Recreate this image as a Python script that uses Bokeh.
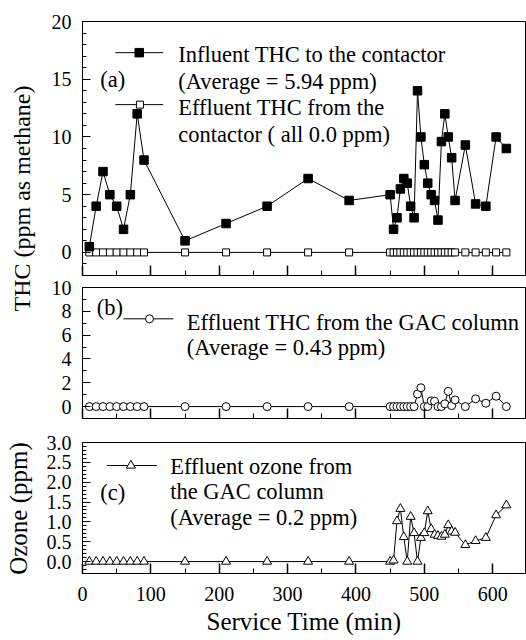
from bokeh.plotting import figure
from bokeh.models import Range1d, SingleIntervalTicker, PrintfTickFormatter, CustomJSTickFormatter, Label
from bokeh.layouts import row, column
from bokeh.embed import file_html
from bokeh.resources import INLINE

# ---------------- data ----------------
service_time = [10, 20, 30, 40, 50, 60, 70, 80, 90,
                150, 210, 270, 330, 390,
                450, 455, 460, 465, 470, 475, 480, 485, 490, 495,
                500, 505, 510, 515, 520, 525, 530, 535, 540, 545,
                560, 575, 590, 605, 620]

influent_thc = [0.5, 4.0, 7.0, 5.0, 4.0, 2.0, 5.0, 12.0, 8.0,
                1.0, 2.5, 4.0, 6.4, 4.5,
                5.0, 2.0, 3.0, 5.5, 6.4, 6.0, 4.0, 3.0, 14.0, 10.0,
                7.6, 6.0, 5.0, 4.5, 2.8, 9.6, 12.0, 10.0, 8.2, 4.5,
                9.3, 4.2, 4.0, 10.0, 9.0]

effluent_contactor_thc = [0.0, 0.0, 0.0, 0.0, 0.0, 0.0, 0.0, 0.0, 0.0,
                          0.0, 0.0, 0.0, 0.0, 0.0,
                          0.0, 0.0, 0.0, 0.0, 0.0, 0.0, 0.0, 0.0, 0.0, 0.0,
                          0.0, 0.0, 0.0, 0.0, 0.0, 0.0, 0.0, 0.0, 0.0, 0.0,
                          0.0, 0.0, 0.0, 0.0, 0.0]

effluent_gac_thc = [0.0, 0.0, 0.0, 0.0, 0.0, 0.0, 0.0, 0.0, 0.0,
                    0.0, 0.0, 0.0, 0.0, 0.0,
                    0.0, 0.0, 0.0, 0.0, 0.0, 0.0, 0.0, 0.0, 1.05, 1.58,
                    0.0, 0.0, 0.48, 0.45, 0.0, 0.0, 0.23, 1.28, 0.08, 0.56,
                    0.0, 0.65, 0.28, 0.87, 0.0]

effluent_ozone = [0.0, 0.0, 0.0, 0.0, 0.0, 0.0, 0.0, 0.0, 0.0,
                  0.0, 0.0, 0.0, 0.0, 0.0,
                  0.0, 0.03, 1.02, 1.33, 0.62, 0.0, 1.13, 0.72, 0.0, 0.6,
                  0.72, 1.27, 0.82, 0.68, 0.65, 0.63, 0.68, 0.92, 0.76, 0.73,
                  0.42, 0.52, 0.6, 1.17, 1.42]

x_tick_interval = 100
panel_a_range = (-2, 20)
panel_b_range = (-1, 10)
panel_c_range = (-0.3, 3.0)

FONT = "Liberation Serif"
TICK_FS = "20px"
ANN_FS = "22.5px"
X_RANGE = (0, 648)


def make_panel(height, yr, btop, bbot, y_interval, y_minor, yfmt, last=False):
    p = figure(width=488, height=height,
               x_range=Range1d(*X_RANGE), y_range=Range1d(*yr),
               output_backend="svg", toolbar_location=None,
               min_border_left=44, min_border_right=1,
               min_border_top=btop, min_border_bottom=bbot)
    p.grid.visible = False
    p.outline_line_color = "black"
    p.outline_line_width = 1
    p.background_fill_color = "white"
    p.border_fill_color = "white"

    xa = p.xaxis[0]
    xa.ticker = SingleIntervalTicker(interval=x_tick_interval, num_minor_ticks=2)
    xa.major_tick_in = 10
    xa.major_tick_out = 0
    xa.minor_tick_in = 5
    xa.minor_tick_out = 0
    xa.major_tick_line_width = 1.5
    xa.axis_line_color = "black"
    xa.major_tick_line_color = "black"
    xa.minor_tick_line_color = "black"
    if last:
        xa.major_label_text_font = FONT
        xa.major_label_text_font_size = TICK_FS
        xa.major_label_text_color = "black"
        xa.major_label_standoff = 13
        xa.axis_label = "Service Time (min)"
        xa.axis_label_text_font = FONT
        xa.axis_label_text_font_size = "25px"
        xa.axis_label_text_font_style = "normal"
        xa.axis_label_text_color = "black"
        xa.axis_label_standoff = 4
    else:
        xa.formatter = CustomJSTickFormatter(code="return ''")
        xa.major_label_standoff = 0

    ya = p.yaxis[0]
    ya.ticker = SingleIntervalTicker(interval=y_interval, num_minor_ticks=y_minor)
    ya.formatter = PrintfTickFormatter(format=yfmt)
    ya.major_tick_in = 8
    ya.major_tick_out = 0
    ya.minor_tick_in = 4
    ya.minor_tick_out = 0
    ya.major_tick_line_width = 1.2
    ya.major_label_text_font = FONT
    ya.major_label_text_font_size = TICK_FS
    ya.major_label_text_color = "black"
    ya.major_label_standoff = 11
    ya.axis_line_color = "black"
    ya.major_tick_line_color = "black"
    ya.minor_tick_line_color = "black"
    return p


def add_text(p, x, y, text, size=ANN_FS):
    p.add_layout(Label(x=x, y=y, text=text, text_font=FONT, text_font_size=size,
                       text_color="black", text_align="left", text_baseline="alphabetic"))


# ---------------- panel (a) ----------------
pa = make_panel(278, panel_a_range, 21, 3, 5, 5, "%d")
pa.line(service_time, effluent_contactor_thc, color="black", line_width=1)
pa.scatter(service_time, effluent_contactor_thc, marker="square", size=7,
           fill_color="white", line_color="black", line_width=1)
pa.line(service_time, influent_thc, color="black", line_width=1)
pa.scatter(service_time, influent_thc, marker="square", size=8.5,
           fill_color="black", line_color="black")
# legend samples
pa.line([48, 118], [17.3, 17.3], color="black", line_width=1)
pa.scatter([83], [17.3], marker="square", size=8.5, fill_color="black", line_color="black")
pa.line([48, 118], [12.8, 12.8], color="black", line_width=1)
pa.scatter([84], [12.8], marker="square", size=7, fill_color="white", line_color="black")
add_text(pa, 140, 17.14, "Influent THC  to the contactor")
add_text(pa, 140, 14.80, "(Average = 5.94 ppm)")
add_text(pa, 140, 12.54, "Effluent THC from the")
add_text(pa, 140, 10.21, "contactor ( all 0.0 ppm)")
add_text(pa, 26, 14.98, "(a)")

# ---------------- panel (b) ----------------
pb = make_panel(154, panel_b_range, 9, 14, 2, 2, "%d")
pb.line(service_time, effluent_gac_thc, color="black", line_width=1)
pb.scatter(service_time, effluent_gac_thc, marker="circle", size=8,
           fill_color="white", line_color="black", line_width=1)
pb.line([60, 133], [7.37, 7.37], color="black", line_width=1)
pb.scatter([98], [7.37], marker="circle", size=8, fill_color="white", line_color="black")
add_text(pb, 21, 8.32, "(b)")
add_text(pb, 152.6, 7.07, "Effluent THC from the GAC column")
add_text(pb, 152.6, 4.99, "(Average = 0.43 ppm)")

# ---------------- panel (c) ----------------
pc = make_panel(208, panel_c_range, 10, 67, 0.5, 5, "%.1f", last=True)
pc.line(service_time, effluent_ozone, color="black", line_width=1)
pc.scatter(service_time, effluent_ozone, marker="triangle", size=9,
           fill_color="white", line_color="black", line_width=1)
pc.line([35.7, 108.8], [2.42, 2.42], color="black", line_width=1)
pc.scatter([70.8], [2.42], marker="triangle", size=9, fill_color="white", line_color="black")
add_text(pc, 26, 1.745, "(c)")
add_text(pc, 128.2, 2.398, "Effluent ozone from")
add_text(pc, 128.2, 1.768, "the GAC column")
add_text(pc, 128.2, 1.101, "(Average = 0.2 ppm)")

# ---------------- y-axis titles ----------------
lab = figure(width=38, height=640, x_range=Range1d(0, 38), y_range=Range1d(0, 640),
             output_backend="svg", toolbar_location=None, min_border=0,
             x_axis_type=None, y_axis_type=None)
lab.grid.visible = False
lab.outline_line_color = None
lab.add_layout(Label(x=21, y=442, text="THC (ppm as methane)", angle=90, angle_units="deg",
                     text_align="center", text_baseline="middle", text_font=FONT,
                     text_font_size="24px", text_color="black"))
lab.add_layout(Label(x=18, y=132, text="Ozone (ppm)", angle=90, angle_units="deg",
                     text_align="center", text_baseline="middle", text_font=FONT,
                     text_font_size="25px", text_color="black"))

layout = row(lab, column(pa, pb, pc, spacing=0), spacing=0)

open("out.html", "w").write(file_html(layout, INLINE))
